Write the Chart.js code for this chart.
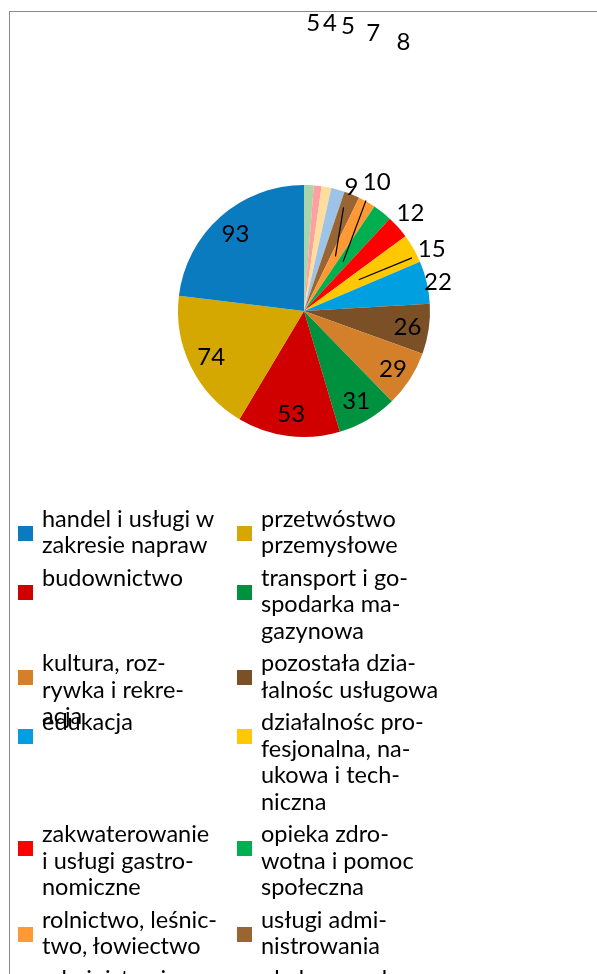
<!DOCTYPE html>
<html lang="pl">
<head>
<meta charset="utf-8">
<script src="https://cdn.jsdelivr.net/npm/chart.js@4"></script>
<style>
  html, body { margin:0; padding:0; width:597px; height:974px; overflow:hidden; background:#fff; }
  #frame { position:absolute; left:9px; top:11px; width:700px; height:1100px; border-left:1px solid #898989; border-top:1px solid #898989; box-sizing:border-box; }
  #pie { position:absolute; left:0; top:0; }
  #legend { position:absolute; left:0; top:0; width:597px; height:974px; font-family:Lato, "Noto Sans", sans-serif; font-size:23.5px; color:#000; }
  .sw { position:absolute; width:15px; height:15px; }
  .tx { position:absolute; white-space:nowrap; line-height:26.5px; }
</style>
</head>
<body>
<div id="frame"></div>
<canvas id="pie" width="597" height="480"></canvas>
<div id="legend"></div>
<script>
// ---- data ----
const categories = [
  'handel i usługi w zakresie napraw',
  'przetwóstwo przemysłowe',
  'budownictwo',
  'transport i gospodarka magazynowa',
  'kultura, rozrywka i rekreacja',
  'pozostała działalnośc usługowa',
  'edukacja',
  'działalnośc profesjonalna, naukowa i techniczna',
  'zakwaterowanie i usługi gastronomiczne',
  'opieka zdrowotna i pomoc społeczna',
  'rolnictwo, leśnictwo, łowiectwo',
  'usługi administrowania',
  'administracja publiczna',
  'obsługa rynku nieruchomości',
  'informacja i komunikacja',
  'działalnośc finansowa i ubezpieczeniowa'
];
const values = [93, 74, 53, 31, 29, 26, 22, 15, 12, 10, 9, 8, 7, 5, 4, 5];
const legendLines = [
  ['handel i usługi w', 'zakresie napraw'],
  ['przetwóstwo', 'przemysłowe'],
  ['budownictwo'],
  ['transport i go-', 'spodarka ma-', 'gazynowa'],
  ['kultura, roz-', 'rywka i rekre-', 'acja'],
  ['pozostała dzia-', 'łalnośc usługowa'],
  ['edukacja'],
  ['działalnośc pro-', 'fesjonalna, na-', 'ukowa i tech-', 'niczna'],
  ['zakwaterowanie', 'i usługi gastro-', 'nomiczne'],
  ['opieka zdro-', 'wotna i pomoc', 'społeczna'],
  ['rolnictwo, leśnic-', 'two, łowiectwo'],
  ['usługi admi-', 'nistrowania'],
  ['administracja', 'publiczna'],
  ['obsługa rynku', 'nieruchomości'],
  ['informacja i ko-', 'munikacja'],
  ['działalnośc fi-', 'nansowa i ubez-', 'pieczeniowa']
];

// ---- styles ----
const colors = [
  '#0b7bbf', '#d4a800', '#d10000', '#00913f', '#d47f2a', '#7b5026',
  '#00a0e0', '#ffc800', '#ff0000', '#00b050', '#ff9933', '#996633',
  '#9dc3e6', '#ffdd9c', '#ff9f9f', '#a8d5aa'
];
// label placement per slice: radius factor, angular shift (deg), leader line
const labelLayout = [
  [0.82, 0, 0], [0.82, 0, 0], [0.82, 0, 0], [0.82, 0, 0], [0.84, 0, 0], [0.83, 0, 0],
  [1.09, 0.6, 0], [1.13, 3.5, 1], [1.15, -1, 0], [1.18, -9.1, 1], [1.055, -9, 1],
  [2.28, -2.1, 0], [2.28, -1.7, 0], [2.29, -1.5, 0], [2.30, -1.1, 0], [2.29, -0.4, 0]
];
const legendRowLines = [2, 3, 2, 4, 3, 2, 2, 3];

// Excel draws this pie counter-clockwise: feed the dataset reversed
const n = values.length;
const rev = a => a.slice().reverse();

const labelPlugin = {
  id: 'pieLabels',
  afterDatasetsDraw(chart) {
    const ctx = chart.ctx;
    const arcs = chart.getDatasetMeta(0).data;
    ctx.save();
    const fs = 24;
    ctx.font = fs + 'px Lato, "Noto Sans", sans-serif';
    ctx.fillStyle = '#000';
    ctx.textAlign = 'center';
    ctx.textBaseline = 'alphabetic';
    arcs.forEach((arc, j) => {
      const i = n - 1 - j; // original index
      const p = arc.getProps(['x', 'y', 'startAngle', 'endAngle', 'outerRadius'], true);
      const mid = (p.startAngle + p.endAngle) / 2;
      const [f, shiftDeg, leader] = labelLayout[i];
      const a = mid + shiftDeg * Math.PI / 180;
      const r = p.outerRadius;
      const lx = p.x + Math.cos(a) * r * f;
      const ly = p.y + Math.sin(a) * r * f;
      if (leader) {
        ctx.beginPath();
        ctx.strokeStyle = '#000';
        ctx.lineWidth = 1.2;
        const sr = r * (f - 0.175);
        ctx.moveTo(p.x + Math.cos(a) * sr, p.y + Math.sin(a) * sr);
        ctx.lineTo(p.x + Math.cos(mid) * r * 0.5, p.y + Math.sin(mid) * r * 0.5);
        ctx.stroke();
      }
      ctx.fillText(String(values[i]), lx, ly + fs * 0.36);
    });
    ctx.restore();
  }
};

const chart = new Chart(document.getElementById('pie'), {
  type: 'pie',
  data: {
    labels: rev(categories),
    datasets: [{
      data: rev(values),
      backgroundColor: rev(colors),
      borderWidth: 0
    }]
  },
  options: {
    responsive: false,
    animation: false,
    devicePixelRatio: 1,
    layout: { padding: { left: 178, right: 167, top: 185, bottom: 43 } },
    plugins: { legend: { display: false }, tooltip: { enabled: false } }
  },
  plugins: [labelPlugin]
});

// ---- legend (HTML, two columns) ----
const legend = document.getElementById('legend');
const lineH = 26.5, rowGap = 6, firstCenter = 518;
let center = firstCenter;
const colX = [18, 237], txtX = [42, 261];
for (let row = 0; row * 2 < n; row++) {
  for (let c = 0; c < 2; c++) {
    const i = row * 2 + c;
    if (i >= n) break;
    const sw = document.createElement('div');
    sw.className = 'sw';
    sw.style.left = colX[c] + 'px';
    sw.style.top = (center + 15 - 7.5) + 'px';
    sw.style.background = colors[i];
    legend.appendChild(sw);
    const tx = document.createElement('div');
    tx.className = 'tx';
    tx.style.left = txtX[c] + 'px';
    tx.style.top = (center - lineH / 2) + 'px';
    tx.innerHTML = legendLines[i].map(s => s.replace(/&/g, '&amp;').replace(/</g, '&lt;')).join('<br>');
    legend.appendChild(tx);
  }
  center += legendRowLines[row] * lineH + rowGap;
}
</script>
</body>
</html>
